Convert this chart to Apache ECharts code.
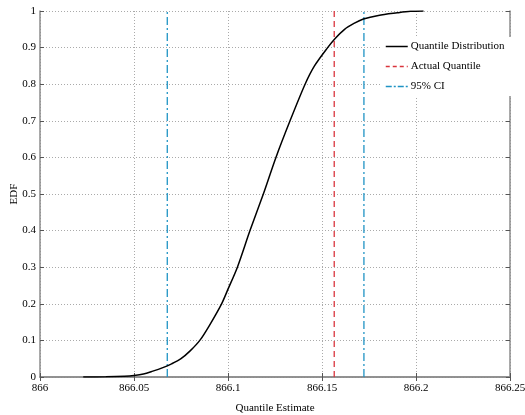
<!DOCTYPE html>
<html>
<head>
<meta charset="utf-8">
<script src="https://cdn.jsdelivr.net/npm/echarts@6/dist/echarts.min.js"></script>
<style>
  html, body { margin: 0; padding: 0; background: #fff; }
  #edfChart { width: 525px; height: 415px; }
</style>
</head>
<body>
<div id="edfChart"></div>
<script>
// values
var quantileX = [866.023, 866.035, 866.045, 866.05, 866.055, 866.06, 866.065, 866.07, 866.075, 866.08,
    866.085, 866.09, 866.0966, 866.1, 866.105, 866.1117, 866.1188, 866.1255, 866.133, 866.141,
    866.146, 866.153, 866.157, 866.162, 866.167, 866.172, 866.18, 866.19, 866.197, 866.204]
var edfY = [0, 0.0005, 0.002, 0.004, 0.008, 0.016, 0.025, 0.036, 0.05, 0.072,
    0.1, 0.14, 0.2, 0.24, 0.3, 0.4, 0.5, 0.6, 0.7, 0.8,
    0.85, 0.9, 0.925, 0.95, 0.966, 0.978, 0.988, 0.995, 0.999, 1]
var actualQuantile = 866.1565
var ciBounds = [866.0677, 866.1723]

var font = 'Liberation Serif'
var fontSize = 11
var axisGray = '#8c8c8c'
var red = '#d9343c'
var cyan = '#1f93c4'
var redDash = [6, 4]
var ciDash = [8, 3, 2, 3]

var dom = document.getElementById('edfChart')
var myChart = echarts.init(dom)

var curve = quantileX.map(function (x, i) { return [x, edfY[i]] })

function vLine(x) {
    return [[x, 0], [x, 1]]
}

var option = {
    animation: false,
    grid: { left: 40, right: 15, top: 11, bottom: 38, containLabel: false, outerBoundsMode: 'none' },
    // y axis title, kept as plain rotated text so it sits where the original has it
    graphic: [
        {
            type: 'text',
            x: 14,
            y: 194,
            rotation: Math.PI / 2,
            style: {
                text: 'EDF',
                fontFamily: font,
                fontSize: fontSize,
                fill: '#000',
                align: 'center',
                verticalAlign: 'middle'
            }
        }
    ],
    legend: {
        orient: 'vertical',
        left: 381,
        top: 37,
        padding: [4, 8, 4, 4],
        backgroundColor: '#fff',
        itemWidth: 22,
        itemHeight: 12,
        itemGap: 9,
        itemStyle: { opacity: 0 },
        textStyle: { fontFamily: font, fontSize: fontSize, color: '#000', padding: [0, 0, 0, -2] },
        data: [
            { name: 'Quantile Distribution', lineStyle: { color: '#000', width: 1.5 } },
            { name: 'Actual Quantile', lineStyle: { color: red, width: 1.5, type: [4, 3] } },
            { name: '95% CI', lineStyle: { color: cyan, width: 1.5, type: [6, 2, 2, 2] } }
        ]
    },
    xAxis: [
        {
            type: 'value',
            min: 866,
            max: 866.25,
            interval: 0.05,
            name: 'Quantile Estimate',
            nameLocation: 'middle',
            nameGap: 26,
            nameTextStyle: { fontFamily: font, fontSize: fontSize, color: '#000' },
            axisLine: { show: true, onZero: false, lineStyle: { color: axisGray, width: 1.5 } },
            axisTick: { show: true, inside: true, length: 4, lineStyle: { color: '#555' } },
            axisLabel: {
                fontFamily: font, fontSize: fontSize, color: '#000', margin: 6,
                formatter: function (v) { return String(+v.toFixed(2)) }
            },
            splitLine: { show: true, lineStyle: { type: [1, 2], color: '#aaa' } }
        },
        {
            type: 'value',
            position: 'top',
            min: 866,
            max: 866.25,
            interval: 0.05,
            axisLine: { show: true, lineStyle: { color: axisGray, width: 1.5 } },
            axisTick: { show: true, inside: true, length: 4, lineStyle: { color: '#555' } },
            axisLabel: { show: false },
            splitLine: { show: false }
        }
    ],
    yAxis: [
        {
            type: 'value',
            min: 0,
            max: 1,
            interval: 0.1,
            axisLine: { show: true, lineStyle: { color: axisGray, width: 1.5 } },
            axisTick: { show: true, inside: true, length: 4, lineStyle: { color: '#555' } },
            axisLabel: {
                fontFamily: font, fontSize: fontSize, color: '#000', margin: 4,
                formatter: function (v) { return String(+v.toFixed(1)) }
            },
            splitLine: { show: true, lineStyle: { type: [1, 2], color: '#aaa' } }
        },
        {
            type: 'value',
            position: 'right',
            min: 0,
            max: 1,
            interval: 0.1,
            axisLine: { show: true, lineStyle: { color: axisGray, width: 1.5 } },
            axisTick: { show: true, inside: true, length: 4, lineStyle: { color: '#555' } },
            axisLabel: { show: false },
            splitLine: { show: false }
        }
    ],
    series: [
        {
            name: 'Quantile Distribution',
            type: 'line',
            data: curve,
            smooth: 0.3,
            symbol: 'none',
            color: '#000',
            lineStyle: { color: '#000', width: 1.5 },
            z: 5
        },
        {
            name: 'Actual Quantile',
            type: 'line',
            data: vLine(actualQuantile),
            symbol: 'none',
            color: red,
            lineStyle: { color: red, width: 1.3, type: redDash },
            z: 3
        },
        {
            name: '95% CI',
            type: 'line',
            data: vLine(ciBounds[0]),
            symbol: 'none',
            color: cyan,
            lineStyle: { color: cyan, width: 1.3, type: ciDash },
            z: 3
        },
        {
            name: '95% CI',
            type: 'line',
            data: vLine(ciBounds[1]),
            symbol: 'none',
            color: cyan,
            lineStyle: { color: cyan, width: 1.3, type: ciDash },
            z: 3
        }
    ]
}

if (option && typeof option === "object") {
    myChart.setOption(option, true)
}
</script>
</body>
</html>
